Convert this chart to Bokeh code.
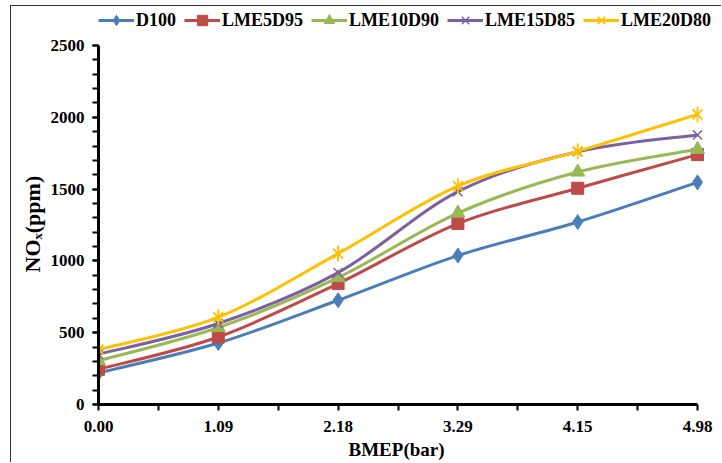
import numpy as np
from bokeh.plotting import figure
from bokeh.models import (Range1d, FixedTicker, SingleIntervalTicker, Legend, LegendItem, Title)
from bokeh.embed import file_html
from bokeh.resources import INLINE

categories = ["0.00", "1.09", "2.18", "3.29", "4.15", "4.98"]
d100 = [220, 428, 726, 1037, 1271, 1547]
lme5d95 = [245, 470, 842, 1260, 1506, 1740]
lme10d90 = [305, 536, 884, 1333, 1619, 1777]
lme15d85 = [350, 564, 918, 1482, 1760, 1877]
lme20d80 = [382, 608, 1051, 1521, 1763, 2020]

series = [
    ("D100", d100, "#4A7EBB"),
    ("LME5D95", lme5d95, "#BE4B48"),
    ("LME10D90", lme10d90, "#98B954"),
    ("LME15D85", lme15d85, "#7D60A0"),
    ("LME20D80", lme20d80, "#FFC000"),
]
x_title = "BMEP(bar)"
y_title = "NOₓ(ppm)"

FONT = "Liberation Serif"
Y_MAX = 2500
N = len(categories)

# frame geometry (pixels) -> ranges that leave room for the legend inside the frame
X_PX = 119.8           # pixels per category step
Y_PX = 359.0 / Y_MAX   # pixels per ppm
x_end = (N - 1) + 25 / X_PX
y_end = Y_MAX + 37 / Y_PX

p = figure(width=711, height=457, output_backend="svg", toolbar_location=None,
           x_range=Range1d(0, x_end), y_range=Range1d(0, y_end),
           min_border_left=87, min_border_right=0, min_border_top=2, min_border_bottom=59)
p.styles = {"border-left": "1px solid #333", "border-top": "1px solid #333",
            "margin-left": "10px", "margin-top": "5px"}
p.outline_line_color = None
p.xgrid.visible = False
p.ygrid.visible = False
p.background_fill_color = "white"
p.border_fill_color = "white"

xs = np.arange(N, dtype=float)

legend_items = []
for name, vals, color in series:
    y = np.asarray(vals, dtype=float)
    # smooth (Catmull-Rom style) bezier segments between successive points
    yp = np.concatenate([[y[0]], y, [y[-1]]])
    xp = np.concatenate([[xs[0]], xs, [xs[-1]]])
    x0, x1 = xs[:-1], xs[1:]
    y0, y1 = y[:-1], y[1:]
    cx0 = x0 + (xp[2:-1] - xp[:-3]) / 6.0
    cy0 = y0 + (yp[2:-1] - yp[:-3]) / 6.0
    cx1 = x1 - (xp[3:] - xp[1:-2]) / 6.0
    cy1 = y1 - (yp[3:] - yp[1:-2]) / 6.0
    p.bezier(x0=x0, y0=y0, x1=x1, y1=y1, cx0=cx0, cy0=cy0, cx1=cx1, cy1=cy1,
             line_color=color, line_width=3)
    dummy = p.line(x=[np.nan], y=[np.nan], line_color=color, line_width=3)
    rends = [dummy]
    if name == "D100":
        rends.append(p.scatter(xs, y, marker="diamond", size=15, color=color))
    elif name == "LME5D95":
        rends.append(p.scatter(xs, y, marker="square", size=12, color=color))
    elif name == "LME10D90":
        rends.append(p.scatter(xs, y, marker="triangle", size=14, color=color))
    elif name == "LME15D85":
        rends.append(p.scatter(xs, y, marker="x", size=13, line_color=color, line_width=1.5))
    else:
        rends.append(p.scatter(xs, y, marker="x", size=14, line_color=color, line_width=1.8))
        rends.append(p.scatter(xs, y, marker="dash", size=16, angle=np.pi / 2,
                               line_color=color, line_width=1.8))
    legend_items.append(LegendItem(label=name, renderers=rends))

legend = Legend(items=legend_items, orientation="horizontal", location=(0, 371),
                label_text_font=FONT, label_text_font_style="bold", label_text_font_size="18px",
                label_text_color="black", glyph_width=36, glyph_height=26, label_standoff=2,
                spacing=8, padding=0, margin=0, border_line_color=None,
                background_fill_alpha=0)
p.add_layout(legend, "center")

for ax in (p.xaxis, p.yaxis):
    ax.axis_line_width = 3
    ax.axis_line_color = "black"
    ax.major_tick_line_width = 2
    ax.minor_tick_line_width = 2
    ax.major_tick_line_color = "black"
    ax.minor_tick_line_color = "black"
    ax.major_tick_out = 6
    ax.major_tick_in = 0
    ax.minor_tick_out = 6
    ax.minor_tick_in = 0
    ax.major_label_text_font = FONT
    ax.major_label_text_font_style = "bold"
    ax.major_label_text_font_size = "17px"
    ax.major_label_text_color = "black"

p.xaxis.ticker = FixedTicker(ticks=list(range(N)),
                             minor_ticks=[i + 0.5 for i in range(N - 1)])
p.xaxis.major_label_overrides = {i: c for i, c in enumerate(categories)}
p.xaxis.bounds = (0, N - 1)
p.xaxis.major_label_standoff = 10

p.yaxis.ticker = SingleIntervalTicker(interval=500, num_minor_ticks=5)
p.yaxis.bounds = (0, Y_MAX)
p.yaxis.major_label_standoff = 8

# axis titles as Title annotations so they can be centred on the 0..max span
xt = Title(text=x_title, align="left", offset=250, standoff=4,
           text_font=FONT, text_font_style="bold", text_font_size="19px", text_color="black")
p.add_layout(xt, "below")
yt = Title(text=y_title, align="left", offset=132, standoff=6,
           text_font=FONT, text_font_style="bold", text_font_size="22px", text_color="black")
p.add_layout(yt, "left")

open("out.html", "w").write(file_html(p, INLINE))
